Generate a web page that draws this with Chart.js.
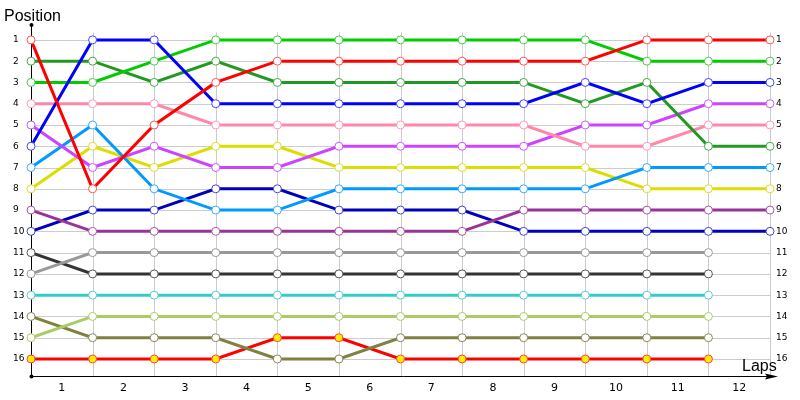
<!DOCTYPE html>
<html>
<head>
<meta charset="utf-8">
<script src="https://cdn.jsdelivr.net/npm/chart.js@4/dist/chart.umd.min.js"></script>
<style>
html,body{margin:0;padding:0;background:#fff;}
canvas{display:block;}
</style>
</head>
<body>
<canvas id="c" width="800" height="400"></canvas>
<script>
// Lap labels (shown between lap boundaries)
const lapLabels = ["1","2","3","4","5","6","7","8","9","10","11","12"];
// Position tick labels
const positionTicks = [1,2,3,4,5,6,7,8,9,10,11,12,13,14,15,16];
// Positions at start (index 0) and at the end of each lap (index 1..12)
const driverRed        = [1, 8, 5, 3, 2, 2, 2, 2, 2, 2, 1, 1, 1];
const driverBlue       = [6, 1, 1, 4, 4, 4, 4, 4, 4, 3, 4, 3, 3];
const driverGreen      = [3, 3, 2, 1, 1, 1, 1, 1, 1, 1, 2, 2, 2];
const driverDarkGreen  = [2, 2, 3, 2, 3, 3, 3, 3, 3, 4, 3, 6, 6];
const driverPink       = [4, 4, 4, 5, 5, 5, 5, 5, 5, 6, 6, 5, 5];
const driverMagenta    = [5, 7, 6, 7, 7, 6, 6, 6, 6, 5, 5, 4, 4];
const driverSkyBlue    = [7, 5, 8, 9, 9, 8, 8, 8, 8, 8, 7, 7, 7];
const driverYellow     = [8, 6, 7, 6, 6, 7, 7, 7, 7, 7, 8, 8, 8];
const driverPurple     = [9, 10, 10, 10, 10, 10, 10, 10, 9, 9, 9, 9, 9];
const driverNavy       = [10, 9, 9, 8, 8, 9, 9, 9, 10, 10, 10, 10, 10];
const driverGray       = [12, 11, 11, 11, 11, 11, 11, 11, 11, 11, 11, 11];
const driverDarkGray   = [11, 12, 12, 12, 12, 12, 12, 12, 12, 12, 12, 12];
const driverCyan       = [13, 13, 13, 13, 13, 13, 13, 13, 13, 13, 13, 13];
const driverLightGreen = [15, 14, 14, 14, 14, 14, 14, 14, 14, 14, 14, 14];
const driverOlive      = [14, 15, 15, 15, 16, 16, 15, 15, 15, 15, 15, 15];
const driverRedYellow  = [16, 16, 16, 16, 15, 15, 16, 16, 16, 16, 16, 16];

const series = [
  {data: driverRed,        line: '#ff0000', pt: '#ff5555', fill: '#ffffff'},
  {data: driverBlue,       line: '#0000ff', pt: '#4444ff', fill: '#ffffff'},
  {data: driverGreen,      line: '#00cc00', pt: '#44cc44', fill: '#ffffff'},
  {data: driverDarkGreen,  line: '#229922', pt: '#44aa44', fill: '#ffffff'},
  {data: driverPink,       line: '#ff88aa', pt: '#ff99bb', fill: '#ffffff'},
  {data: driverMagenta,    line: '#cc44ff', pt: '#cc55ff', fill: '#ffffff'},
  {data: driverSkyBlue,    line: '#0099ff', pt: '#33aaff', fill: '#ffffff'},
  {data: driverYellow,     line: '#dddd00', pt: '#dddd22', fill: '#ffffff'},
  {data: driverPurple,     line: '#993399', pt: '#aa55aa', fill: '#ffffff'},
  {data: driverNavy,       line: '#0000bb', pt: '#4444cc', fill: '#ffffff'},
  {data: driverGray,       line: '#999999', pt: '#999999', fill: '#ffffff'},
  {data: driverDarkGray,   line: '#333333', pt: '#555555', fill: '#ffffff'},
  {data: driverCyan,       line: '#33cccc', pt: '#55cccc', fill: '#ffffff'},
  {data: driverLightGreen, line: '#aacc66', pt: '#aacc66', fill: '#ffffff'},
  {data: driverOlive,      line: '#808040', pt: '#888855', fill: '#ffffff'},
  {data: driverRedYellow,  line: '#ff0000', pt: '#ff4444', fill: '#ffee00'}
];

const datasets = series.map(s => ({
  data: s.data.map((v, i) => ({x: i, y: v})),
  borderColor: s.line,
  borderWidth: 3,
  pointRadius: 4,
  pointHoverRadius: 4,
  pointBorderWidth: 1,
  pointBorderColor: s.pt,
  pointBackgroundColor: s.fill,
  tension: 0,
  clip: false
}));

const decor = {
  id: 'decor',
  beforeDatasetsDraw(chart) {
    const ctx = chart.ctx;
    const xs = chart.scales.x, ys = chart.scales.y;
    const x0 = xs.getPixelForValue(0), x12 = xs.getPixelForValue(12);
    const yTop = ys.getPixelForValue(0.3), yBot = ys.getPixelForValue(16.8);
    ctx.save();
    ctx.strokeStyle = '#cccccc';
    ctx.lineWidth = 1;
    positionTicks.forEach(p => {
      const y = Math.round(ys.getPixelForValue(p)) + 0.5;
      ctx.beginPath(); ctx.moveTo(x0, y); ctx.lineTo(x12, y); ctx.stroke();
    });
    for (let i = 1; i <= 12; i++) {
      const x = Math.round(xs.getPixelForValue(i)) + 0.5;
      ctx.beginPath(); ctx.moveTo(x, ys.getPixelForValue(0.65)); ctx.lineTo(x, yBot); ctx.stroke();
    }
    // axes
    ctx.strokeStyle = '#000';
    ctx.fillStyle = '#000';
    ctx.lineWidth = 1;
    const ax = Math.round(x0) + 0.5, ay = Math.round(yBot) + 0.5;
    ctx.beginPath(); ctx.moveTo(ax, yTop); ctx.lineTo(ax, ay); ctx.stroke();
    ctx.beginPath(); ctx.moveTo(ax, ay); ctx.lineTo(776, ay); ctx.stroke();
    ctx.beginPath(); ctx.arc(ax, yTop, 2, 0, Math.PI * 2); ctx.fill();
    ctx.beginPath(); ctx.arc(ax, ay, 2, 0, Math.PI * 2); ctx.fill();
    ctx.beginPath(); ctx.moveTo(778, ay); ctx.lineTo(765, ay - 3); ctx.lineTo(767, ay); ctx.lineTo(765, ay + 3); ctx.closePath(); ctx.fill();
    ctx.restore();
  },
  afterDraw(chart) {
    const ctx = chart.ctx;
    ctx.save();
    ctx.fillStyle = '#000';
    ctx.font = '16px "Liberation Sans", Arial, sans-serif';
    ctx.textAlign = 'left';
    ctx.textBaseline = 'alphabetic';
    ctx.fillText('Position', 4, 21);
    ctx.fillText('Laps', 742, 371);
    ctx.restore();
  }
};

const yTicksOpts = {
  color: '#000',
  font: {family: '"DejaVu Sans", Verdana, sans-serif', size: 9},
  callback: v => String(v)
};

new Chart(document.getElementById('c'), {
  type: 'line',
  data: {datasets},
  options: {
    responsive: false,
    animation: false,
    events: [],
    layout: {padding: {left: 13, right: 0, top: 25, bottom: 0}},
    plugins: {legend: {display: false}, tooltip: {enabled: false}},
    scales: {
      x: {
        type: 'linear', min: 0, max: 12,
        grid: {display: false, drawTicks: false},
        border: {display: false},
        afterBuildTicks: s => { s.ticks = lapLabels.map((l, i) => ({value: i + 0.5})); },
        afterFit: s => { s.height = 24; },
        ticks: {
          color: '#000', padding: 6, maxRotation: 0, autoSkip: false,
          font: {family: '"DejaVu Sans", Verdana, sans-serif', size: 11},
          callback: (v, i) => lapLabels[i]
        }
      },
      y: {
        type: 'linear', position: 'left', reverse: true, min: 0.3, max: 16.8,
        grid: {display: false, drawTicks: false},
        border: {display: false},
        afterBuildTicks: s => { s.ticks = positionTicks.map(v => ({value: v})); },
        afterFit: s => { s.width = 18; },
        ticks: Object.assign({crossAlign: 'far', padding: 0}, yTicksOpts)
      },
      y2: {
        type: 'linear', position: 'right', reverse: true, min: 0.3, max: 16.8,
        grid: {display: false, drawTicks: false},
        border: {display: false},
        afterBuildTicks: s => { s.ticks = positionTicks.map(v => ({value: v})); },
        afterFit: s => { s.width = 30; },
        ticks: Object.assign({padding: 6}, yTicksOpts)
      }
    }
  },
  plugins: [decor]
});
</script>
</body>
</html>
